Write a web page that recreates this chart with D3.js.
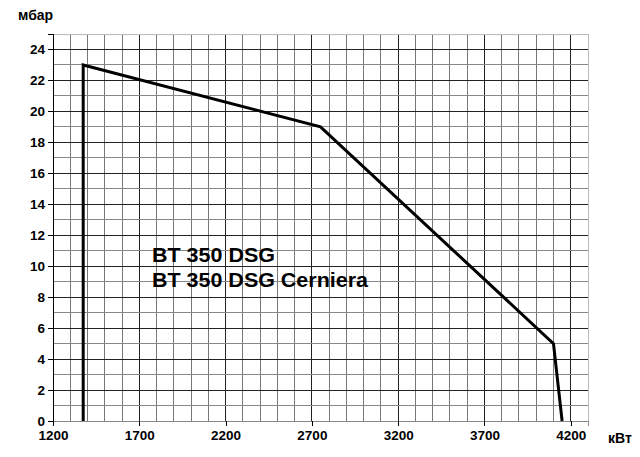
<!DOCTYPE html>
<html><head><meta charset="utf-8">
<script src="https://cdn.jsdelivr.net/npm/d3@7"></script>
<style>body{margin:0;background:#fff}text{font-family:"Liberation Sans",Arial,sans-serif;font-weight:bold}</style>
</head><body><svg id="c" width="640" height="457"></svg>
<script>
const powerKW = [1375, 1375, 2750, 4100, 4150];
const pressureMbar = [0, 23, 19, 5, 0];
const xTicks = [1200, 1700, 2200, 2700, 3200, 3700, 4200];
const yTicks = [0, 2, 4, 6, 8, 10, 12, 14, 16, 18, 20, 22, 24];
const titleLines = ["BT 350 DSG", "BT 350 DSG Cerniera"];
const yUnit = "мбар", xUnit = "кВт";

const svg = d3.select("#c");
const x = d3.scaleLinear().domain([1200, 4300]).range([53, 588]);
const y = d3.scaleLinear().domain([0, 25]).range([421, 34]);

const g = svg.append("g");
d3.range(1300, 4301, 100).forEach(v => {
  const major = (v - 1200) % 500 === 0;
  g.append("line").attr("x1", x(v)).attr("x2", x(v)).attr("y1", y(0)).attr("y2", y(25))
    .attr("stroke", v === 4300 ? "#bbb" : (major ? "#222" : "#777")).attr("stroke-width", 1).attr("shape-rendering","crispEdges");
});
d3.range(1, 26, 1).forEach(v => {
  g.append("line").attr("x1", x(1200)).attr("x2", x(4300)).attr("y1", y(v)).attr("y2", y(v))
    .attr("stroke", v === 25 ? "#bbb" : (v % 2 === 0 ? "#222" : "#888")).attr("stroke-width", 1).attr("shape-rendering","crispEdges");
});

const xAxis = d3.axisBottom(x).tickValues(xTicks).tickSize(5).tickPadding(4).tickFormat(d3.format("d"));
const yAxis = d3.axisLeft(y).tickValues(yTicks).tickSize(5).tickPadding(3).tickFormat(d3.format("d"));
const gx = svg.append("g").attr("transform", `translate(0,${y(0)})`).call(xAxis);
const gy = svg.append("g").attr("transform", `translate(${x(1200)},0)`).call(yAxis);
[gx, gy].forEach(a => {
  a.select(".domain").attr("stroke", "#000").attr("shape-rendering","crispEdges");
  a.selectAll(".tick line").attr("stroke", "#000").attr("shape-rendering","crispEdges");
  a.selectAll("text").attr("font-size", 13.5).attr("font-family", '"Liberation Sans",Arial,sans-serif').attr("font-weight", "bold").attr("fill", "#000");
});
gx.select(".domain").attr("stroke", "#888");

const pts = powerKW.map((p, i) => [p, pressureMbar[i]]);
svg.append("path").datum(pts)
  .attr("d", d3.line().x(d => x(d[0])).y(d => y(d[1])))
  .attr("fill", "none").attr("stroke", "#000").attr("stroke-width", 3).attr("stroke-linejoin", "miter");

const titleWidths = [123, 216];
titleLines.forEach((t, i) => {
  svg.append("text").attr("x", 152).attr("y", 262 + i * 25).attr("font-size", 20).attr("fill", "#000")
    .attr("textLength", titleWidths[i]).attr("lengthAdjust", "spacingAndGlyphs").text(t);
});
svg.append("text").attr("x", 18).attr("y", 20).attr("font-size", 14).text(yUnit);
svg.append("text").attr("x", 608).attr("y", 443).attr("font-size", 14).text(xUnit);
</script></body></html>
